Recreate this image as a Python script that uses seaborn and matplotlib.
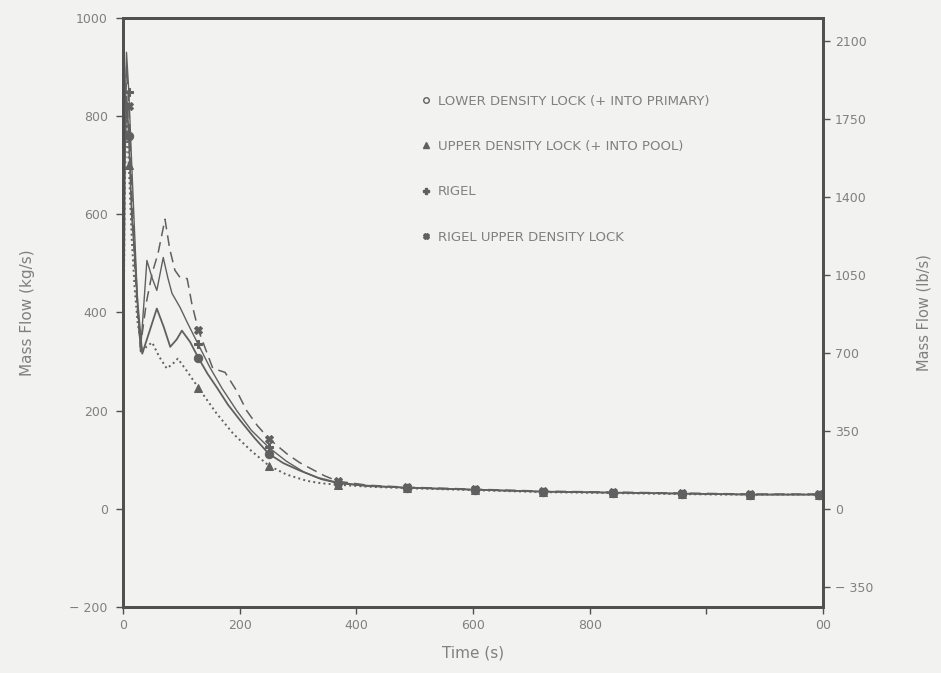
import numpy as np
import matplotlib
matplotlib.use("Agg")
import matplotlib.pyplot as plt
from matplotlib.lines import Line2D
import seaborn as sns

# series (time in s, mass flow in kg/s)
tail_t = [420, 487, 545, 603, 660, 720, 780, 840, 900, 958, 1020, 1075, 1135, 1193, 1200]

lower_t = [0, 3, 6, 10, 15, 20, 25, 33, 45, 58, 70, 81, 92, 101, 115, 129,
           145, 161, 180, 201, 225, 250, 275, 303, 335, 369] + tail_t
lower_v = [150, 700, 840, 760, 600, 520, 420, 316, 360, 408, 370, 330, 345, 363, 340, 308,
           275, 247, 212, 180, 145, 112, 93, 78, 63, 53,
           47, 43, 41, 39, 37, 35, 34, 33, 32, 31, 30, 29, 29, 29, 29]

upper_t = [0, 3, 6, 10, 15, 20, 25, 33, 40, 50, 62, 75, 85, 94, 110, 129,
           160, 189, 220, 250, 280, 315, 340, 369] + tail_t
upper_v = [200, 650, 800, 700, 550, 450, 380, 320, 330, 339, 310, 286, 295, 306, 280, 247,
           195, 153, 118, 88, 70, 57, 52, 49,
           45, 42, 40, 38, 36, 34, 33, 32, 31, 30, 29, 29, 29, 29, 29]

rigel_t = [0, 3, 6, 10, 15, 20, 25, 30, 41, 50, 58, 69, 77, 84, 98, 110, 129,
           149, 170, 195, 220, 250, 280, 310, 340, 369] + tail_t
rigel_v = [180, 780, 930, 850, 700, 560, 420, 320, 506, 470, 445, 512, 470, 439, 410, 380, 335,
           288, 245, 200, 160, 125, 97, 75, 60, 52,
           46, 43, 41, 39, 37, 35, 34, 33, 32, 31, 30, 29, 29, 29, 29]

rigel_up_t = [0, 3, 6, 10, 15, 20, 25, 30, 40, 50, 60, 72, 80, 89, 98, 110, 118, 129,
              154, 175, 195, 212, 230, 250, 281, 303, 325, 346, 369] + tail_t
rigel_up_v = [160, 720, 900, 820, 650, 500, 400, 330, 420, 480, 520, 590, 530, 486, 471, 469, 418, 365,
              286, 278, 240, 200, 170, 143, 112, 94, 80, 67, 56,
              48, 44, 42, 40, 38, 36, 35, 34, 33, 32, 31, 30, 30, 30, 30]

marker_times = [10, 129, 250, 369, 487, 603, 720, 840, 958, 1075, 1193]

labels = ["LOWER DENSITY LOCK (+ INTO PRIMARY)",
          "UPPER DENSITY LOCK (+ INTO POOL)",
          "RIGEL",
          "RIGEL UPPER DENSITY LOCK"]

x_ticks = [0, 200, 400, 600, 800, 1000, 1200]
x_tick_labels = ["0", "200", "400", "600", "800", "", "00"]
y_ticks = [-200, 0, 200, 400, 600, 800, 1000]
y2_ticks = [-350, 0, 350, 700, 1050, 1400, 1750, 2100]
KG_TO_LB = 2.2046

sns.set_style("ticks")
plt.rcParams["font.family"] = ["DejaVu Sans"]

BG = "#f2f2f0"
INK = "#505050"
LINE = "#606060"
TXT = "#808080"

fig = plt.figure(figsize=(9.41, 6.73), dpi=100, facecolor=BG)
ax = fig.add_axes([0.1307, 0.0981, 0.7439, 0.8752])
ax.set_facecolor(BG)

series = [
    (lower_t, lower_v, "-", "o", 1.3),
    (upper_t, upper_v, ":", "^", 1.4),
    (rigel_t, rigel_v, "-", "P", 1.0),
    (rigel_up_t, rigel_up_v, (0, (7, 4)), "X", 1.1),
]

for (ts, vs, ls, mk, lw) in series:
    idx = [i for i, t in enumerate(ts) if t in marker_times]
    sns.lineplot(x=ts, y=vs, ax=ax, color=LINE, linestyle=ls, linewidth=lw,
                 marker=mk, markersize=6, markevery=idx, markeredgecolor=LINE,
                 estimator=None, sort=False)

ax.set_xlim(0, 1200)
ax.set_ylim(-200, 1000)
ax.set_xticks(x_ticks)
ax.set_xticklabels(x_tick_labels)
ax.set_yticks(y_ticks)
ax.set_yticklabels([str(v).replace("-", "\u2212 ") for v in y_ticks])
ax.set_xlabel("Time (s)", color=TXT, fontsize=11, labelpad=10)
ax.set_ylabel("Mass Flow (kg/s)", color=TXT, fontsize=11)
ax.yaxis.set_label_coords(-0.126, 0.5)

ax2 = ax.twinx()
ax2.set_ylim(-200 * KG_TO_LB, 1000 * KG_TO_LB)
ax2.set_yticks(y2_ticks)
ax2.set_yticklabels([str(v).replace("-", "\u2212 ") for v in y2_ticks])
ax2.set_ylabel("Mass Flow (lb/s)", color=TXT, fontsize=10.5)
ax2.yaxis.set_label_coords(1.133, 0.5)

for a in (ax, ax2):
    for s in a.spines.values():
        s.set_color(INK)
        s.set_linewidth(2)
    a.tick_params(colors=INK, labelcolor=TXT, labelsize=9, length=5, width=1)
ax.tick_params(axis="y", pad=6)

handles = [Line2D([], [], linestyle="none", marker=m, color=LINE, markersize=4,
                  markerfacecolor="none" if m == "o" else LINE)
           for m in ["o", "^", "P", "X"]]
ax.legend(handles, labels, loc="upper left", bbox_to_anchor=(0.41, 0.89),
          frameon=False, handlelength=0.6, handletextpad=0.6, labelspacing=2.45,
          fontsize=9.5, labelcolor=TXT)

fig.savefig("out.png", dpi=100, facecolor=BG)
